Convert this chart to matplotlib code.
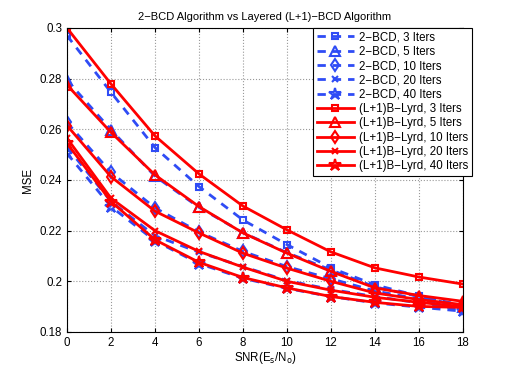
import matplotlib
matplotlib.use('Agg')
import matplotlib.pyplot as plt
from matplotlib.ticker import FormatStrFormatter

plt.rcParams['font.family'] = ['Liberation Sans', 'DejaVu Sans']

snr = [0, 2, 4, 6, 8, 10, 12, 14, 16, 18]

# 2-BCD curves (blue dashed)
bcd_3 = [0.297, 0.2746, 0.2528, 0.2374, 0.2242, 0.2145, 0.2053, 0.1986, 0.1942, 0.1905]
bcd_5 = [0.2794, 0.2598, 0.2415, 0.2292, 0.2192, 0.2113, 0.2045, 0.1978, 0.1940, 0.1900]
bcd_10 = [0.2627, 0.2430, 0.2290, 0.2195, 0.2118, 0.2058, 0.2010, 0.1962, 0.1930, 0.1895]
bcd_20 = [0.2530, 0.2315, 0.2180, 0.2115, 0.2058, 0.2003, 0.1968, 0.1940, 0.1915, 0.1888]
bcd_40 = [0.2505, 0.2295, 0.2160, 0.2070, 0.2012, 0.1972, 0.1940, 0.1915, 0.1898, 0.1882]

# (L+1)B-Lyrd curves (red solid)
lyrd_3 = [0.300, 0.2779, 0.2574, 0.2424, 0.2297, 0.2203, 0.2116, 0.2053, 0.2017, 0.1989]
lyrd_5 = [0.2775, 0.2588, 0.2420, 0.2295, 0.2191, 0.2111, 0.2039, 0.1974, 0.1944, 0.1921]
lyrd_10 = [0.2615, 0.2413, 0.2277, 0.2191, 0.2111, 0.2052, 0.2000, 0.1954, 0.1928, 0.1908]
lyrd_20 = [0.2565, 0.2328, 0.2200, 0.2118, 0.2056, 0.2000, 0.1965, 0.1937, 0.1917, 0.1900]
lyrd_40 = [0.2545, 0.2315, 0.2164, 0.2075, 0.2015, 0.1974, 0.1940, 0.1917, 0.1901, 0.1897]

iters = [3, 5, 10, 20, 40]
markers = ['s', '^', 'd', 'x', '*']
msizes = [5, 7, 6, 4, 9]
bcd = [bcd_3, bcd_5, bcd_10, bcd_20, bcd_40]
lyrd = [lyrd_3, lyrd_5, lyrd_10, lyrd_20, lyrd_40]

blue = '#2f4cf5'
red = '#ff0000'

fig = plt.figure(figsize=(5.12, 3.74), dpi=100)
ax = fig.add_axes([67/512, 1-332/374, (463-67)/512, (332-28)/374])

for it, m, ms, y in zip(iters, markers, msizes, bcd):
    ax.plot(snr, y, color=blue, ls='--', dashes=(3, 2.5), lw=2, marker=m,
            ms=ms, mfc='none', mew=1.5, label=f'2\u2212BCD, {it} Iters')
for it, m, ms, y in zip(iters, markers, msizes, lyrd):
    ax.plot(snr, y, color=red, ls='-', lw=2, marker=m,
            ms=ms, mfc='none', mew=1.5, label=f'(L+1)B\u2212Lyrd, {it} Iters')

ax.set_xlim(0, 18)
ax.set_ylim(0.18, 0.3)
ax.set_xticks(range(0, 19, 2))
ax.set_yticks([0.18, 0.2, 0.22, 0.24, 0.26, 0.28, 0.3])
ax.yaxis.set_major_formatter(FormatStrFormatter('%g'))
ax.tick_params(direction='in', labelsize=8.3, length=3, top=True, right=True)
ax.grid(True, ls=':', color='#999999', lw=0.8)

ax.set_title('2\u2212BCD Algorithm vs Layered (L+1)\u2212BCD Algorithm', fontsize=8)
ax.set_xlabel(r'SNR(E$_\mathrm{s}$/N$_\mathrm{o}$)', fontsize=8.3, labelpad=1)
ax.set_ylabel('MSE', fontsize=8.3)

leg = ax.legend(loc='upper right', bbox_to_anchor=(472/512, 1-28/374),
                bbox_transform=fig.transFigure, borderaxespad=0, fontsize=8.3,
                fancybox=False, framealpha=1, edgecolor='black',
                handlelength=3.2, labelspacing=0.2, borderpad=0.3, handletextpad=0.5)
leg.get_frame().set_linewidth(0.8)

fig.savefig('out.png', dpi=100)
